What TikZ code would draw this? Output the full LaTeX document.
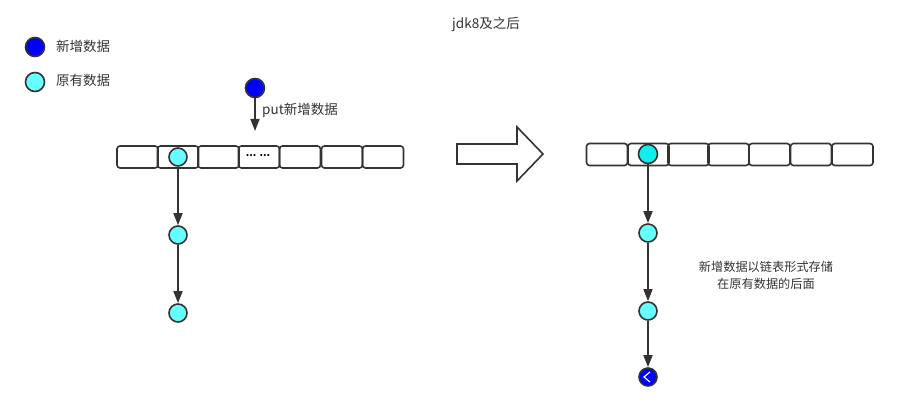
\documentclass[tikz,border=0pt]{standalone}
\usepackage{fontspec}
\setmainfont{Noto Sans CJK SC}
\usetikzlibrary{arrows.meta}
\definecolor{lcyan}{HTML}{66FFFF}
\definecolor{dcyan}{HTML}{10EEEE}
\definecolor{nblue}{HTML}{0000FF}
\definecolor{stroke}{HTML}{333333}
\begin{document}
\begin{tikzpicture}[x=1pt,y=-1pt,
  cell/.style={draw=stroke,line width=1.6pt,rounded corners=3pt,minimum width=41pt,minimum height=22pt,inner sep=0pt},
  dot/.style={circle,draw=stroke,line width=1.6pt,minimum size=18pt,inner sep=0pt},
  newdot/.style={dot,fill=nblue},
  olddot/.style={dot,fill=lcyan},
  link/.style={draw=stroke,line width=1.6pt,-{Triangle[width=9pt,length=12pt]}},
  lbl/.style={font=\fontsize{13.5pt}{16pt}\selectfont,text=stroke,inner sep=0pt},
  note/.style={font=\fontsize{12.2pt}{17pt}\selectfont,text=stroke,inner sep=0pt}]
\useasboundingbox (0,0) rectangle (913,414);
% legend
\node[newdot,minimum size=19pt] (lg1) at (35,47) {};
\node[lbl,anchor=west] (lg1t) at (56,46) {新增数据};
\node[olddot,minimum size=19pt] (lg2) at (35,82) {};
\node[lbl,anchor=west] (lg2t) at (56,80) {原有数据};
% title
\node[lbl] (title) at (486,24) {jdk8及之后};
% left array
\foreach \i/\x in {1/137.5,2/178,3/218.5,4/259,5/300,6/342,7/383}{
  \node[cell] (L\i) at (\x,157) {};
}
\node[font=\fontsize{10pt}{11pt}\selectfont\bfseries,inner sep=0pt] (dots) at (258,156) {... ...};
\node[olddot] (L0) at (178,157) {};
\node[olddot] (L1n) at (178,235) {};
\node[olddot] (L2n) at (178,313) {};
\draw[link] (L0) -- (L1n);
\draw[link] (L1n) -- (L2n);
% put
\node[newdot,minimum size=19pt] (put) at (255,88) {};
\coordinate (putend) at (255,131);
\draw[link] (put) -- (putend);
\node[lbl,anchor=west] (putt) at (262,110) {put新增数据};
% big arrow
\draw[draw=stroke,line width=1.6pt,fill=white,line join=miter]
  (457,144) -- (517,144) -- (517,127) -- (543,154) -- (517,181) -- (517,164) -- (457,164) -- cycle;
% right array
\foreach \i/\x in {1/607,2/648.5,3/688.5,4/728.5,5/769.5,6/811,7/852.5}{
  \node[cell] (R\i) at (\x,154.5) {};
}
\node[dot,fill=dcyan,minimum size=19pt] (R0) at (648,154) {};
\node[olddot] (R1n) at (648,233) {};
\node[olddot] (R2n) at (648,311) {};
\node[newdot] (R3n) at (648,377) {};
\draw[link] (R0) -- (R1n);
\draw[link] (R1n) -- (R2n);
\draw[link] (R2n) -- (R3n);
\draw[white,line width=1.2pt] (650,372) -- (644,377) -- (650,382);
% note
\node[note,align=center] (note) at (766,275) {新增数据以链表形式存储\\在原有数据的后面};
\end{tikzpicture}
\end{document}
